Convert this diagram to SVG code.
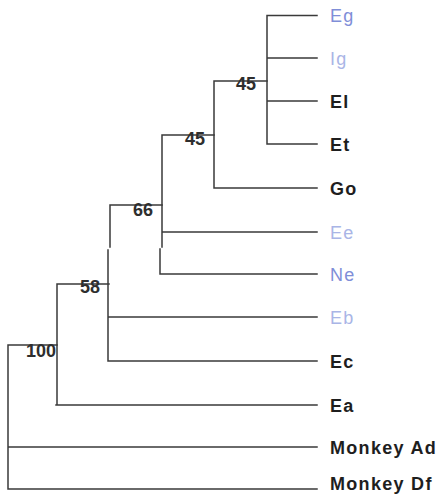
<svg xmlns="http://www.w3.org/2000/svg" width="439" height="495" viewBox="0 0 439 495">
  <style>
    .br { fill: none; stroke: #3a3a3a; stroke-width: 1.5; stroke-linecap: square; }
    .lb { font-family: "Liberation Sans", Arial, sans-serif; font-size: 18px; letter-spacing: 1.3px; }
    .k { fill: #1e1e1e; font-weight: bold; }
    .b { fill: #7f8ed8; }
    .bl { fill: #a9b5e6; }
    .sup { font-family: "Liberation Sans", Arial, sans-serif; font-size: 18px; font-weight: bold; fill: #2e2e2e; text-anchor: middle; }
  </style>
  <rect width="439" height="495" fill="#ffffff"/>

  <!-- branches of the tree -->
  <g id="connectors">
    <!-- Eg / Ig / El / Et clade -->
    <path class="br" d="M267 15.5 V144 M267 15.5 H317 M267 58 H317 M267 101 H317 M267 144 H317"/>
    <!-- node 45 (upper) -->
    <path class="br" d="M214 81 H267 M214 81 V188 M214 188 H317"/>
    <!-- node 45 (lower) -->
    <path class="br" d="M162 135 H214 M162 135 V247 M160 249 V274 M162 232 H317 M160 274 H317"/>
    <!-- node 66 -->
    <path class="br" d="M110 205 H162 M110 205 V247 M108 250 V361 M109 317 H317 M108 361 H317"/>
    <!-- node 58 -->
    <path class="br" d="M57 284 H109 M57 284 V405 M56 405 H317"/>
    <!-- node 100 (root) -->
    <path class="br" d="M8 345 H57 M8 345 V489 M8 447 H317 M8 489 H317"/>
  </g>

  <!-- support values -->
  <g id="support">
    <text class="sup" x="246" y="90">45</text>
    <text class="sup" x="195" y="145">45</text>
    <text class="sup" x="143" y="216">66</text>
    <text class="sup" x="90" y="293">58</text>
    <text class="sup" x="41" y="357">100</text>
  </g>

  <!-- leaves -->
  <g id="leaf-Eg"><text class="lb b" x="330" y="22">Eg</text></g>
  <g id="leaf-Ig"><text class="lb bl" x="330" y="65">Ig</text></g>
  <g id="leaf-El"><text class="lb k" x="330" y="108">El</text></g>
  <g id="leaf-Et"><text class="lb k" x="330" y="151">Et</text></g>
  <g id="leaf-Go"><text class="lb k" x="330" y="195">Go</text></g>
  <g id="leaf-Ee"><text class="lb bl" x="330" y="239">Ee</text></g>
  <g id="leaf-Ne"><text class="lb b" x="330" y="281">Ne</text></g>
  <g id="leaf-Eb"><text class="lb bl" x="330" y="324">Eb</text></g>
  <g id="leaf-Ec"><text class="lb k" x="330" y="368">Ec</text></g>
  <g id="leaf-Ea"><text class="lb k" x="330" y="412">Ea</text></g>
  <g id="leaf-MonkeyAd"><text class="lb k" x="330" y="454">Monkey Ad</text></g>
  <g id="leaf-MonkeyDf"><text class="lb k" x="330" y="490">Monkey Df</text></g>
</svg>
